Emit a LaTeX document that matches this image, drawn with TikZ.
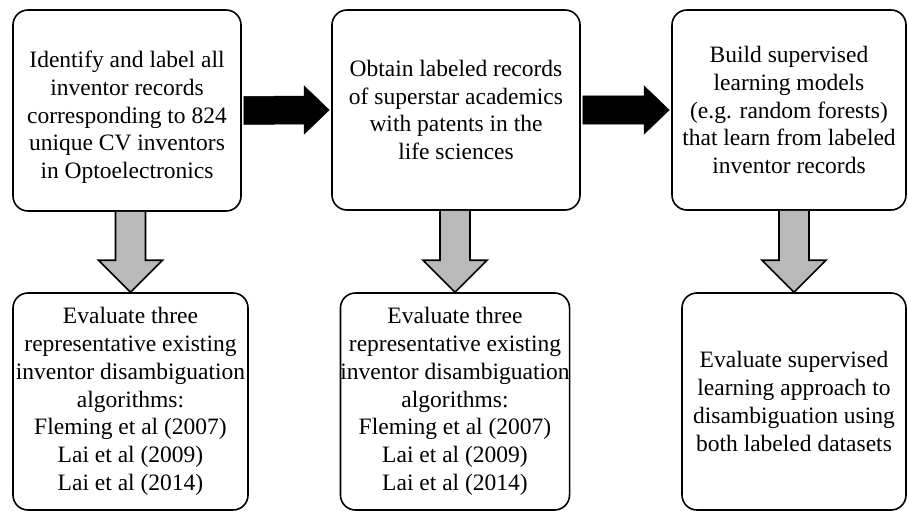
\documentclass[tikz,border=0pt]{standalone}
\usepackage{fontspec}
\setmainfont{Liberation Serif}
\usetikzlibrary{calc}

\tikzset{
  stepbox/.style={draw, line width=1.6pt, rounded corners=15pt, align=center,
    inner sep=0pt, font=\fontsize{23.5}{27.8}\selectfont},
  blackarrow/.style={fill=black, draw=black, line width=0.5pt},
  grayarrow/.style={fill=gray!55, draw=black, line width=1.6pt, line join=miter},
}

\begin{document}
\begin{tikzpicture}[x=1pt,y=1pt]
\useasboundingbox (0,0) rectangle (908,-511);
% upper row
\node[stepbox, minimum width=228pt, minimum height=201pt] (ident) at (127,-110.5)
  {\rule{0pt}{30pt}Identify and label all\\inventor records\\corresponding to 824\\unique CV inventors\\in Optoelectronics};
\node[stepbox, minimum width=248pt, minimum height=200pt] (obtain) at (456,-110)
  {Obtain labeled records\\of superstar academics\\with patents in the\\life sciences};
\node[stepbox, minimum width=234pt, minimum height=200pt] (build) at (789,-110)
  {Build supervised\\learning models\\(e.g. random forests)\\that learn from labeled\\inventor records};
% lower row
\node[stepbox, minimum width=235pt, minimum height=217pt] (evalA) at (130.5,-401.5)
  {Evaluate three\\representative existing\\inventor disambiguation\\algorithms:\\Fleming et al (2007)\\Lai et al (2009)\\Lai et al (2014)};
\node[stepbox, minimum width=228pt, minimum height=217pt] (evalB) at (455,-401.5)
  {Evaluate three\\representative existing\\inventor disambiguation\\algorithms:\\Fleming et al (2007)\\Lai et al (2009)\\Lai et al (2014)};
\node[stepbox, minimum width=224pt, minimum height=217pt] (evalC) at (794,-401.5)
  {Evaluate supervised\\learning approach to\\disambiguation using\\both labeled datasets};
% black arrows
\foreach \a/\b in {ident/obtain, obtain/build}
  \draw[blackarrow] ($(\a.east)+(2,14)$) -- ($(\b.west)+(-27,14)$)
    -- ($(\b.west)+(-27,24)$) -- ($(\b.west)+(-2,0)$) -- ($(\b.west)+(-27,-24)$)
    -- ($(\b.west)+(-27,-14)$) -- ($(\a.east)+(2,-14)$) -- cycle;
% gray arrows
\foreach \a/\b in {ident/evalA, obtain/evalB, build/evalC}
  \draw[grayarrow] ($(\b.north |- \a.south)+(-15,0)$) -- ($(\b.north)+(-15,32)$)
    -- ($(\b.north)+(-32,32)$) -- (\b.north) -- ($(\b.north)+(32,32)$)
    -- ($(\b.north)+(15,32)$) -- ($(\b.north |- \a.south)+(15,0)$);
\end{tikzpicture}
\end{document}
